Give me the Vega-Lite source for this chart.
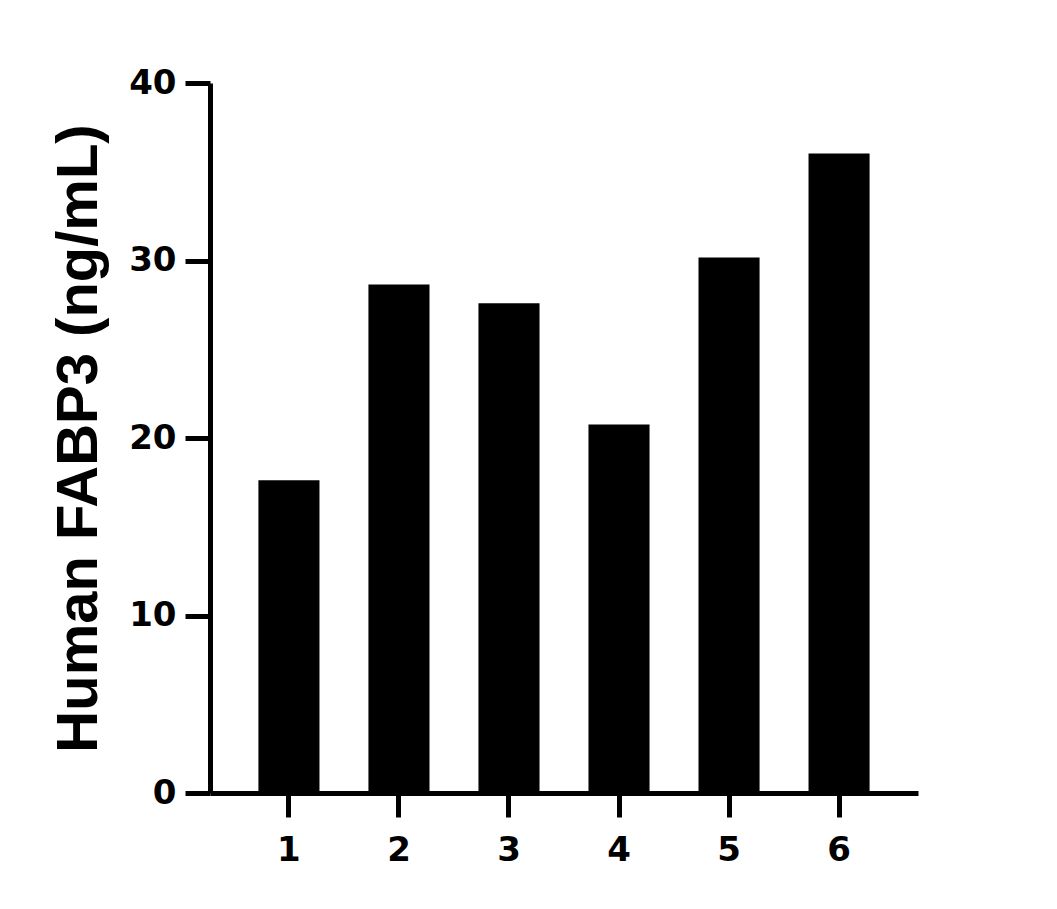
{
  "$schema": "https://vega.github.io/schema/vega-lite/v6.json",
  "width": 708,
  "height": 710,
  "autosize": "none",
  "padding": {"left": 210, "top": 83, "right": 139, "bottom": 116},
  "background": "white",
  "data": {
    "values": [
      {"sample": "1", "fabp3": 17.62},
      {"sample": "2", "fabp3": 28.65},
      {"sample": "3", "fabp3": 27.59},
      {"sample": "4", "fabp3": 20.76},
      {"sample": "5", "fabp3": 30.17},
      {"sample": "6", "fabp3": 36.03}
    ]
  },
  "mark": {"type": "bar", "color": "black"},
  "encoding": {
    "x": {
      "field": "sample",
      "type": "nominal",
      "title": null,
      "scale": {"paddingInner": 0.445, "paddingOuter": 0.44},
      "axis": {"labelAngle": 0, "tickSize": 24, "labelPadding": 16}
    },
    "y": {
      "field": "fabp3",
      "type": "quantitative",
      "title": "Human FABP3 (ng/mL)",
      "scale": {"domain": [0, 40], "nice": false},
      "axis": {"values": [0, 10, 20, 30, 40], "tickSize": 25, "labelPadding": 9, "titlePadding": 20, "titleFontSize": 58}
    }
  },
  "config": {
    "view": {"stroke": null},
    "axis": {
      "grid": false,
      "domainColor": "black",
      "domainWidth": 5,
      "tickColor": "black",
      "tickWidth": 5,
      "labelFont": "DejaVu Sans",
      "labelFontWeight": "bold",
      "labelFontSize": 34,
      "labelColor": "black",
      "titleFont": "Liberation Sans",
      "titleFontWeight": "bold",
      "titleColor": "black"
    }
  }
}
